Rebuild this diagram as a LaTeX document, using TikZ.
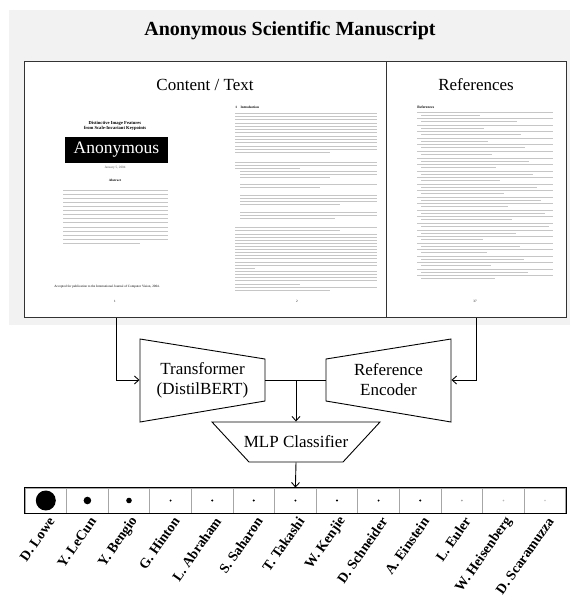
\documentclass[tikz,border=0pt]{standalone}
\usepackage{fontspec}
\setmainfont{Liberation Serif}
\usetikzlibrary{arrows.meta, positioning}

% grey rules standing for the unreadable small print
\newcommand\txtblock[6]{%
  \foreach \k in {1,...,#4}{%
    \pgfmathsetmacro\yy{#3+#6*(\k-1)}%
    \pgfmathsetmacro\xx{\k==#4 ? #5 : #2}%
    \draw [txtline] (#1,\yy) -- (\xx,\yy);}}

\begin{document}
\begin{tikzpicture} [x=1pt, y=-1pt, line width=0.9pt,
panel/.style = {fill=gray!10, draw=none},
pagebox/.style = {draw=black!80, fill=white, line width=1pt, inner sep=0pt, anchor=north west},
txtline/.style = {draw=gray!45, line width=0.7pt},
tiny/.style = {font=\fontsize{3.3}{4}\selectfont, inner sep=0pt},
block/.style = {inner sep=0pt, align=center, font=\fontsize{17}{20}\selectfont},
flow/.style = {-{Straight Barb[length=4.5pt, width=8pt]}},
cell/.style = {draw=gray!70, line width=0.8pt, minimum width=41.6pt, minimum height=25pt, inner sep=0pt},
author/.style = {font=\bfseries\fontsize{14}{14}\selectfont, rotate=55, anchor=east, inner sep=0pt}]

\useasboundingbox (0,0) rectangle (570,598);
\fill [panel] (9,10) rectangle (570,325);

\node (title) [font=\bfseries\fontsize{20}{20}\selectfont] at (290,31) {Anonymous Scientific Manuscript};

\node (content) [pagebox, minimum width=362pt, minimum height=256pt] at (24,61) {};
\node (refs) [pagebox, minimum width=180pt, minimum height=256pt] at (386,61) {};
\node (hcont) [font=\fontsize{17}{17}\selectfont, anchor=base] at (205,90) {Content / Text};
\node (hrefs) [font=\fontsize{17}{17}\selectfont, anchor=base] at (476,90) {References};

% page 1
\node (ptitle) [tiny, font=\bfseries\fontsize{4.6}{5}\selectfont, align=center] at (115,126) {Distinctive Image Features\\from Scale-Invariant Keypoints};
\node (anon) [fill=black, text=white, font=\fontsize{17.5}{18}\selectfont, minimum width=103pt, minimum height=26pt, inner sep=0pt] at (116.5,150) {Anonymous};
\node (date) [tiny, text=gray!70!black] at (115,168) {January 5, 2004};
\node (abstr) [tiny, font=\bfseries\fontsize{3.3}{4}\selectfont] at (115,180) {Abstract};
\txtblock{63}{168}{190}{14}{140}{4.1}
\node (accept) [tiny] at (107,287) {Accepted for publication to the International Journal of Computer Vision, 2004.};
\node (pg1) [tiny] at (115,301) {1};

% page 2
\node (intro) [tiny, font=\bfseries\fontsize{3.4}{4}\selectfont, anchor=west] at (235,107) {1\quad Introduction};
\txtblock{235}{377}{113}{13}{330}{3.3}
\txtblock{235}{377}{162}{3}{300}{3.0}
\txtblock{240}{377}{171.5}{3}{330}{3.0}
\txtblock{240}{377}{184}{2}{320}{3.0}
\txtblock{240}{377}{195}{4}{340}{3.0}
\txtblock{240}{377}{212}{3}{335}{3.0}
\txtblock{235}{377}{227.5}{2}{340}{3.1}
\txtblock{235}{377}{234}{12}{255}{3.1}
\txtblock{235}{377}{271.5}{5}{300}{3.1}
\txtblock{235}{377}{287.5}{2}{330}{3.1}
\node (pg2) [tiny] at (297,301) {2};

% references page
\node (refhead) [tiny, font=\bfseries\fontsize{3.6}{4}\selectfont, anchor=west] at (417,107) {References};
\foreach \e in {0,...,25}{
  \pgfmathsetmacro\ye{112+6.55*\e}
  \pgfmathsetmacro\xe{480+mod(\e*37,70)}
  \draw [txtline] (417,\ye) -- (553,\ye);
  \draw [txtline] (421,\ye+3) -- (\xe,\ye+3);
}
\node (pg37) [tiny] at (475,301) {37};

% encoders and classifier
\draw (140,339) -- (265,359) -- (265,401) -- (140,422) -- cycle;
\draw (326,359) -- (451,339) -- (451,422) -- (326,401) -- cycle;
\draw (212,422) -- (380,422) -- (343,462) -- (249,462) -- cycle;
\node (tf) [block, minimum width=125pt] at (202.5,380) {Transformer\\(DistilBERT)};
\node (re) [block, minimum width=125pt] at (388.5,380) {Reference\\Encoder};
\node (mlp) [block, minimum height=40pt] at (296,442) {MLP Classifier};
\coordinate (join) at (mlp |- tf.east);

% author bar
\foreach \nm [count=\i] in {D. Lowe, Y. LeCun, Y. Bengio, G. Hinton, L. Abraham, S. Saharon, T. Takashi, W. Kenjie, D. Schneider, A. Einstein, L. Euler, W. Heisenberg, D. Scaramuzza}{
  \node (c\i) [cell] at ({25+41.6*(\i-0.5)},500.5) {};
  \node (a\i) [author] at ([xshift=6pt, yshift=-5pt]c\i.south) {\nm};
}
\draw [line width=1pt] (c1.north west) rectangle (c13.south east);
\foreach \i/\r/\col in {1/10/black, 2/3.8/black, 3/2.8/black, 4/1.1/black, 5/1.1/black, 6/1.1/black, 7/1.1/black, 8/1.1/black, 9/1.1/black, 10/1.1/black, 11/1/gray!70, 12/0.9/gray!55, 13/0.8/gray!45}
  \fill [\col] (c\i) circle (\r pt);

\path [flow]
  (anon |- content.south) edge [to path={|- (\tikztotarget)}] (tf.west)
  (refs.south) edge [to path={|- (\tikztotarget)}] (re.east)
  (join) edge (mlp.north)
  (mlp.south) edge (c7.north);
\draw (tf.east) -- (re.west);
\end{tikzpicture}
\end{document}
